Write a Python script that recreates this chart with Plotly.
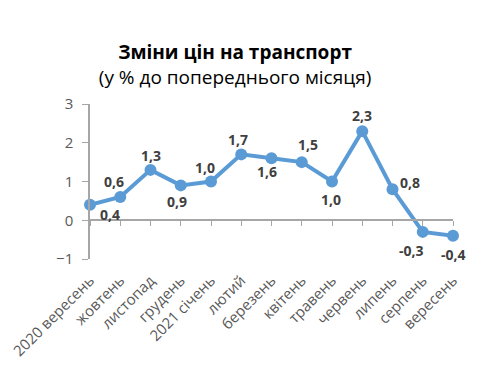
import plotly.graph_objects as go

months = ["2020 вересень", "жовтень", "листопад", "грудень", "2021 січень", "лютий",
          "березень", "квітень", "травень", "червень", "липень", "серпень", "вересень"]
values = [0.4, 0.6, 1.3, 0.9, 1.0, 1.7, 1.6, 1.5, 1.0, 2.3, 0.8, -0.3, -0.4]
y_ticks = [-1, 0, 1, 2, 3]

# label offsets in pixels (styling)
label_dx = [20, -6, 0, -4, -6, -3, -5, 6, -1, 0, 17, -11, 0]
label_dy = [-10, 16, 14, -16, 14, 15, -13, 18, -18, 16, 7, -19, -19]

x = list(range(len(months)))
labels = [f"{v:.1f}".replace(".", ",") for v in values]

fig = go.Figure()
fig.add_trace(go.Scatter(
    x=x, y=values, mode="lines+markers",
    line=dict(color="#5B9BD5", width=4),
    marker=dict(color="#5B9BD5", size=12),
    cliponaxis=False, showlegend=False,
))
fig.add_trace(go.Scatter(x=x, y=values, xaxis="x2", mode="none",
                         showlegend=False, hoverinfo="skip"))

for xi, v, t, dx, dy in zip(x, values, labels, label_dx, label_dy):
    fig.add_annotation(x=xi, y=v, xref="x", yref="y", text=t, showarrow=False,
                       xshift=dx, yshift=dy,
                       font=dict(family="Open Sans", size=14, color="#404040", weight="bold"))

fig.update_layout(
    width=480, height=377,
    margin=dict(l=82, r=35, t=96, b=126, autoexpand=False),
    paper_bgcolor="white", plot_bgcolor="white",
    title=dict(
        text="<b>Зміни цін на транспорт</b><br><span style='font-size:19px'>(у % до попереднього місяця)</span>",
        x=0.473, xanchor="center", y=0.865, yanchor="middle",
        font=dict(family="Open Sans", size=19, color="#000000"),
    ),
    xaxis=dict(
        range=[0, 12], tickvals=x, ticktext=months, tickangle=-45,
        showline=False, showgrid=False, zeroline=False, ticks="",
        automargin=False, ticklabelstandoff=9,
        tickfont=dict(family="Open Sans", size=15, color="#595959"),
    ),
    xaxis2=dict(
        range=[0, 12], overlaying="x", anchor="free", position=0.25,
        tickvals=x, showticklabels=False, ticks="outside", ticklen=5,
        tickcolor="#A6A6A6", showline=True, linecolor="#A6A6A6", linewidth=1.5,
        showgrid=False, zeroline=False, automargin=False,
    ),
    yaxis=dict(
        range=[-1, 3], tickvals=y_ticks, showgrid=False, zeroline=False,
        showline=True, linecolor="#A6A6A6", linewidth=1.5,
        ticks="outside", ticklen=6, tickcolor="#A6A6A6", automargin=False,
        ticklabelstandoff=6,
        tickfont=dict(family="Open Sans", size=15, color="#595959"),
    ),
)

fig.write_html("out.html")
